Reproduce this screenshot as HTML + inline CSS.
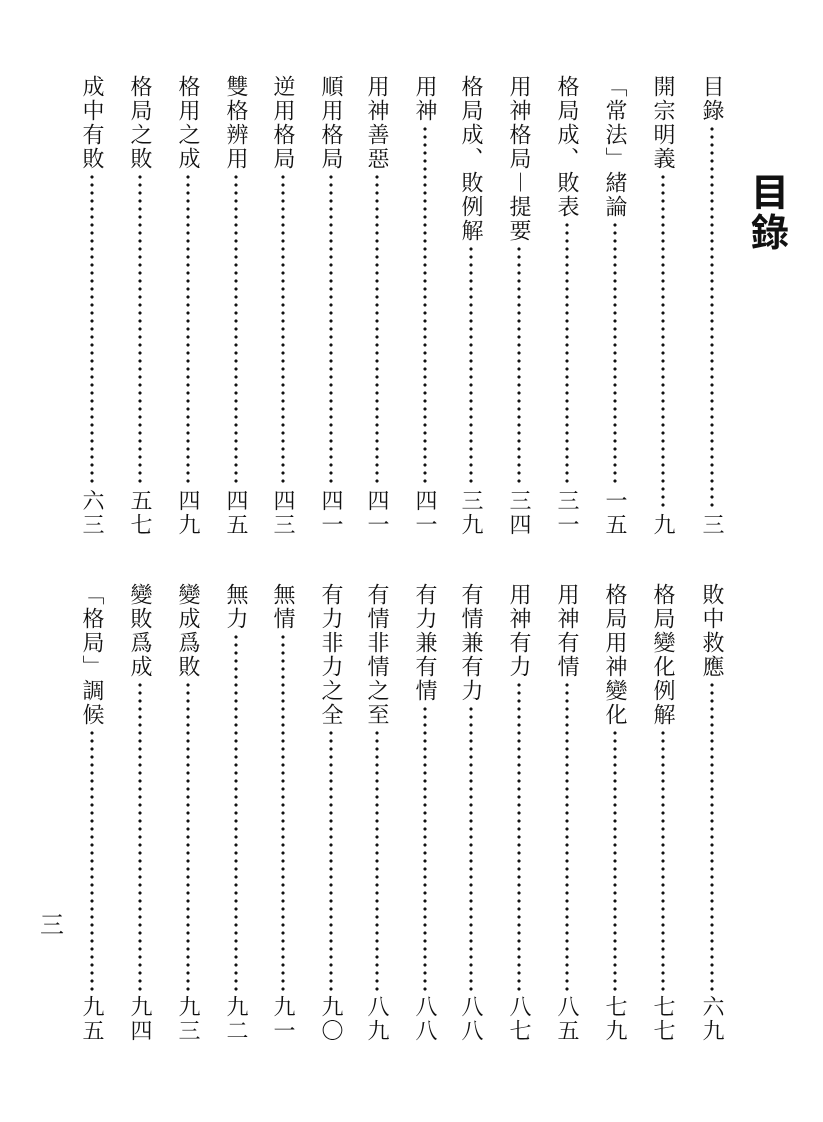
<!DOCTYPE html>
<html><head><meta charset="utf-8"><style>
body{margin:0;width:823px;height:1122px;background:#fff;position:relative;overflow:hidden;font-family:"Liberation Serif","Noto Serif CJK SC","Noto Sans CJK TC",serif;color:#111}
.c{position:absolute;width:26px;writing-mode:vertical-rl;display:flex;flex-direction:row;font-size:22px;line-height:26px;letter-spacing:2px}
.u{top:75px;height:462px}
.b{top:583px;height:460px}
.c .d{flex:1;margin:2px 0;background:radial-gradient(circle,#111 1.4px,transparent 1.8px) center top/26px 8px repeat-y}
.t{position:absolute;left:750px;top:170px;width:40px;font-size:38px;line-height:40px;font-weight:bold;font-family:"Noto Sans CJK TC",sans-serif;text-align:center}
.p{position:absolute;left:40px;top:905px;font-size:24px}
</style></head><body>
<div class="t">目<br>錄</div>

<div class="c u" style="left:699px"><span>目錄</span><span class="d"></span><span>三</span></div>
<div class="c u" style="left:650px"><span>開宗明義</span><span class="d"></span><span>九</span></div>
<div class="c u" style="left:602px"><span>「常法」緒論</span><span class="d"></span><span>一五</span></div>
<div class="c u" style="left:554px"><span>格局成、敗表</span><span class="d"></span><span>三一</span></div>
<div class="c u" style="left:506px"><span>用神格局︱提要</span><span class="d"></span><span>三四</span></div>
<div class="c u" style="left:458px"><span>格局成、敗例解</span><span class="d"></span><span>三九</span></div>
<div class="c u" style="left:412px"><span>用神</span><span class="d"></span><span>四一</span></div>
<div class="c u" style="left:364px"><span>用神善惡</span><span class="d"></span><span>四一</span></div>
<div class="c u" style="left:318px"><span>順用格局</span><span class="d"></span><span>四一</span></div>
<div class="c u" style="left:270px"><span>逆用格局</span><span class="d"></span><span>四三</span></div>
<div class="c u" style="left:223px"><span>雙格辨用</span><span class="d"></span><span>四五</span></div>
<div class="c u" style="left:175px"><span>格用之成</span><span class="d"></span><span>四九</span></div>
<div class="c u" style="left:127px"><span>格局之敗</span><span class="d"></span><span>五七</span></div>
<div class="c u" style="left:79px"><span>成中有敗</span><span class="d"></span><span>六三</span></div>

<div class="c b" style="left:699px"><span>敗中救應</span><span class="d"></span><span>六九</span></div>
<div class="c b" style="left:650px"><span>格局變化例解</span><span class="d"></span><span>七七</span></div>
<div class="c b" style="left:602px"><span>格局用神變化</span><span class="d"></span><span>七九</span></div>
<div class="c b" style="left:554px"><span>用神有情</span><span class="d"></span><span>八五</span></div>
<div class="c b" style="left:506px"><span>用神有力</span><span class="d"></span><span>八七</span></div>
<div class="c b" style="left:458px"><span>有情兼有力</span><span class="d"></span><span>八八</span></div>
<div class="c b" style="left:412px"><span>有力兼有情</span><span class="d"></span><span>八八</span></div>
<div class="c b" style="left:364px"><span>有情非情之至</span><span class="d"></span><span>八九</span></div>
<div class="c b" style="left:318px"><span>有力非力之全</span><span class="d"></span><span>九〇</span></div>
<div class="c b" style="left:270px"><span>無情</span><span class="d"></span><span>九一</span></div>
<div class="c b" style="left:223px"><span>無力</span><span class="d"></span><span>九二</span></div>
<div class="c b" style="left:175px"><span>變成爲敗</span><span class="d"></span><span>九三</span></div>
<div class="c b" style="left:127px"><span>變敗爲成</span><span class="d"></span><span>九四</span></div>
<div class="c b" style="left:79px"><span>「格局」調候</span><span class="d"></span><span>九五</span></div>

<div class="p">三</div>
</body></html>
